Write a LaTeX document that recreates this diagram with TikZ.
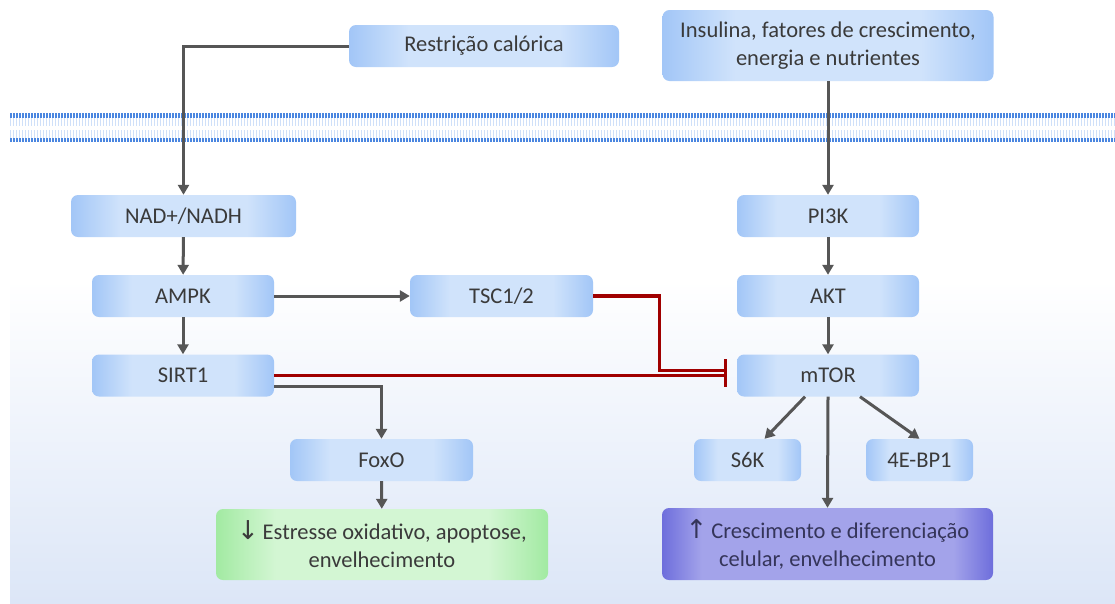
\documentclass[tikz,border=0pt]{standalone}
\usepackage{fontspec}
\setmainfont{Carlito}
\newfontfamily\symfont{DejaVu Sans}
\usetikzlibrary{arrows.meta}
\definecolor{boxedge}{HTML}{A2C6F7}
\definecolor{boxmid}{HTML}{D0E3FB}
\definecolor{grnedge}{HTML}{A2EAA2}
\definecolor{grnmid}{HTML}{D3F6D3}
\definecolor{puredge}{HTML}{6E6EDC}
\definecolor{purmid}{HTML}{A3A3EA}
\definecolor{txtc}{HTML}{3A3A3A}
\definecolor{purtxt}{HTML}{35355A}
\definecolor{grayline}{HTML}{565656}
\definecolor{redline}{HTML}{A00000}
\definecolor{memdot}{HTML}{4A86E0}
\definecolor{memstripe}{HTML}{CFE0F9}
\definecolor{bgbot}{HTML}{DCE6F7}
\pgfdeclarehorizontalshading{bshade}{100bp}{color(0bp)=(boxedge); color(25bp)=(boxedge); color(36bp)=(boxmid); color(64bp)=(boxmid); color(75bp)=(boxedge); color(100bp)=(boxedge)}
\pgfdeclarehorizontalshading{gshade}{100bp}{color(0bp)=(grnedge); color(25bp)=(grnedge); color(34bp)=(grnmid); color(66bp)=(grnmid); color(75bp)=(grnedge); color(100bp)=(grnedge)}
\pgfdeclarehorizontalshading{pshade}{100bp}{color(0bp)=(puredge); color(25bp)=(puredge); color(31bp)=(purmid); color(69bp)=(purmid); color(75bp)=(puredge); color(100bp)=(puredge)}
\tikzset{
  box/.style={rounded corners=7pt, minimum height=42pt, inner sep=0pt, text=txtc,
    font=\fontsize{22.5}{28}\selectfont, align=center, shading=bshade},
  grnbox/.style={box, shading=gshade},
  purbox/.style={box, shading=pshade, text=purtxt},
  garrow/.style={draw=grayline, line width=3pt, -{Triangle[length=10pt,width=11pt]}},
  rinh/.style={draw=redline, line width=3.2pt, -{Bar[width=23pt,line width=3.2pt]}, shorten >=10pt}
}
\begin{document}
\begin{tikzpicture}[x=1pt,y=-1pt]
\useasboundingbox (0,0) rectangle (1115,603);
% background
\fill[white] (0,0) rectangle (1115,603);
\shade[top color=white, bottom color=bgbot] (10,280) rectangle (1115,603);
% membrane
\draw[memstripe, line width=8pt, dash pattern=on 1.2pt off 1.8pt] (10,122) -- (1115,122);
\draw[memstripe, line width=8pt, dash pattern=on 1.2pt off 1.8pt] (10,133.5) -- (1115,133.5);
\draw[memdot, line width=4.5pt, dash pattern=on 2.2pt off 0.8pt] (10,115.5) -- (1115,115.5);
\draw[memdot, line width=4.5pt, dash pattern=on 2.2pt off 0.8pt] (10,140) -- (1115,140);
% nodes
\node[box, minimum width=270pt] (restr) at (484,46) {Restrição calórica};
\node[box, minimum width=331pt, minimum height=71pt] (ins) at (828,45.5) {Insulina, fatores de crescimento,\\energia e nutrientes};
\node[box, minimum width=225pt] (nad) at (183.5,216) {NAD+/NADH};
\node[box, minimum width=182pt] (ampk) at (183,296) {AMPK};
\node[box, minimum width=182pt] (sirt) at (183,375.5) {SIRT1};
\node[box, minimum width=183pt] (tsc) at (501.5,296) {TSC1/2};
\node[box, minimum width=182pt] (pi3k) at (828,216) {PI3K};
\node[box, minimum width=182pt] (akt) at (828,296) {AKT};
\node[box, minimum width=182pt] (mtor) at (828,375.5) {mTOR};
\node[box, minimum width=107pt] (s6k) at (747.5,460) {S6K};
\node[box, minimum width=107pt] (bp) at (919.5,460) {4E-BP1};
\node[box, minimum width=183pt] (foxo) at (381.5,460) {FoxO};
\node[grnbox, minimum width=332pt, minimum height=71pt] (est) at (382,544.5) {{\symfont\fontsize{26}{28}\selectfont↓}\,Estresse oxidativo, apoptose,\\envelhecimento};
\node[purbox, minimum width=331pt, minimum height=72pt] (cres) at (827.5,544) {{\symfont\fontsize{26}{28}\selectfont↑}\,Crescimento e diferenciação\\celular, envelhecimento};
% connectors
\draw[garrow] (restr.west) -| (nad.north);
\draw[garrow] (ins.south) -- (pi3k.north);
\draw[garrow] (nad) -- (ampk);
\draw[garrow] (ampk) -- (sirt);
\draw[garrow] (ampk.east) -- (tsc.west);
\draw[garrow] (pi3k) -- (akt);
\draw[garrow] (akt) -- (mtor);
\draw[garrow] ([yshift=-11pt]sirt.east) -| (foxo.north);
\draw[garrow] (foxo) -- (est);
\draw[garrow] ([xshift=-23pt]mtor.south) -- ([xshift=17pt]s6k.north);
\draw[garrow] ([xshift=32pt]mtor.south) -- (bp.north);
\draw[garrow] (mtor.south) -- (cres.north);
\draw[rinh] (tsc.east) -- ++(66,0) |- ([yshift=5pt]mtor.west);
\draw[rinh] (sirt.east) -- (mtor.west);
\end{tikzpicture}
\end{document}
